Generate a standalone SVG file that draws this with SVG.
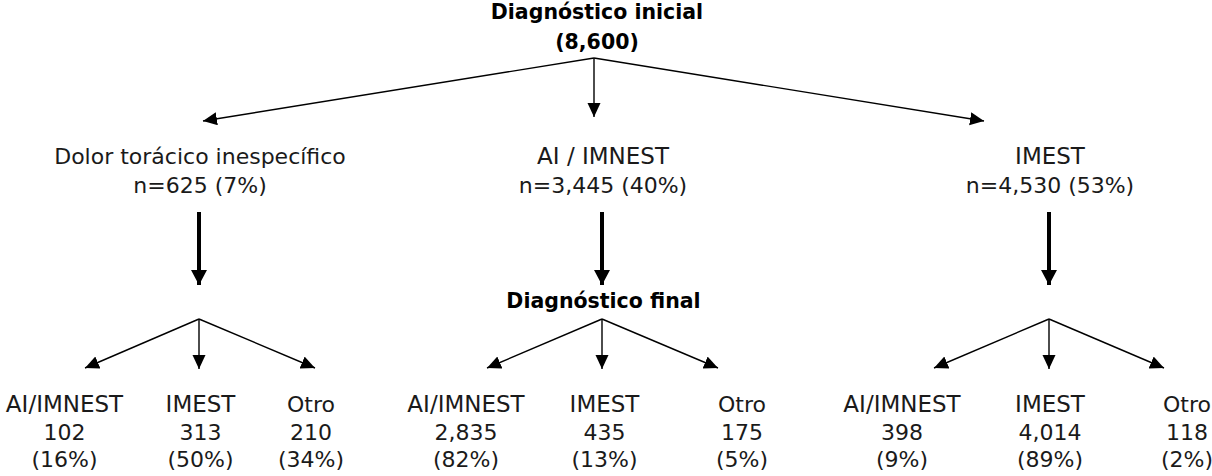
<svg xmlns="http://www.w3.org/2000/svg" width="1212" height="476" viewBox="0 0 1212 476">
<style>
text{font-family:"DejaVu Sans","Liberation Sans",sans-serif;fill:#1a1a1a;text-anchor:middle}
.b{font-weight:bold;font-size:20.5px;fill:#000}
.n{font-size:22px}
.u{font-size:23px}
.c{stroke:#000;fill:none;stroke-width:1.4}
.t{stroke:#000;fill:none;stroke-width:4}
</style>
<defs>
<marker id="ah" markerUnits="userSpaceOnUse" markerWidth="15" markerHeight="14" refX="14" refY="6.5" orient="auto"><path d="M0,0 L14,6.5 L0,13 z" fill="#000"/></marker>
<marker id="ahT" markerUnits="userSpaceOnUse" markerWidth="16" markerHeight="17" refX="15" refY="8" orient="auto"><path d="M0,0 L15,8 L0,16 z" fill="#000"/></marker>
</defs>
<rect width="1212" height="476" fill="#fff"/>
<g id="root"><text class="b" x="597" y="19">Diagnóstico inicial</text><text class="b" x="597" y="49">(8,600)</text></g>
<g id="n-dolor"><text class="n" x="200" y="164">Dolor torácico inespecífico</text><text class="n" x="200" y="192.5">n=625 (7%)</text></g>
<g id="n-ai"><text class="u" x="603" y="164">AI / IMNEST</text><text class="n" x="603" y="192.5">n=3,445 (40%)</text></g>
<g id="n-imest"><text class="u" x="1050" y="164">IMEST</text><text class="n" x="1050" y="192.5">n=4,530 (53%)</text></g>
<g id="final-label"><text class="b" x="603.5" y="308">Diagnóstico final</text></g>
<g id="l-ai"><text class="u" x="64.5" y="412">AI/IMNEST</text><text class="n" x="64.5" y="440">102</text><text class="n" x="64.5" y="467">(16%)</text></g>
<g id="l-imest"><text class="u" x="200.5" y="412">IMEST</text><text class="n" x="200.5" y="440">313</text><text class="n" x="200.5" y="467">(50%)</text></g>
<g id="l-otro"><text class="n" x="311" y="412">Otro</text><text class="n" x="311" y="440">210</text><text class="n" x="311" y="467">(34%)</text></g>
<g id="m-ai"><text class="u" x="466" y="412">AI/IMNEST</text><text class="n" x="466" y="440">2,835</text><text class="n" x="466" y="467">(82%)</text></g>
<g id="m-imest"><text class="u" x="604.5" y="412">IMEST</text><text class="n" x="604.5" y="440">435</text><text class="n" x="604.5" y="467">(13%)</text></g>
<g id="m-otro"><text class="n" x="742" y="412">Otro</text><text class="n" x="742" y="440">175</text><text class="n" x="742" y="467">(5%)</text></g>
<g id="r-ai"><text class="u" x="902" y="412">AI/IMNEST</text><text class="n" x="902" y="440">398</text><text class="n" x="902" y="467">(9%)</text></g>
<g id="r-imest"><text class="u" x="1050" y="412">IMEST</text><text class="n" x="1050" y="440">4,014</text><text class="n" x="1050" y="467">(89%)</text></g>
<g id="r-otro"><text class="n" x="1187" y="412">Otro</text><text class="n" x="1187" y="440">118</text><text class="n" x="1187" y="467">(2%)</text></g>
<g id="connectors">
<path class="c" d="M594,58 L203,121" marker-end="url(#ah)"/>
<path class="c" d="M594,58 L594,117" marker-end="url(#ah)"/>
<path class="c" d="M594,58 L984,121" marker-end="url(#ah)"/>
<path class="t" d="M199,212 L199,285" marker-end="url(#ahT)"/>
<path class="t" d="M602,212 L602,285" marker-end="url(#ahT)"/>
<path class="t" d="M1049,212 L1049,285" marker-end="url(#ahT)"/>
<path class="c" d="M199,319 L85,368" marker-end="url(#ah)"/>
<path class="c" d="M199,319 L199,369" marker-end="url(#ah)"/>
<path class="c" d="M199,319 L315,368" marker-end="url(#ah)"/>
<path class="c" d="M602,319 L487,368" marker-end="url(#ah)"/>
<path class="c" d="M602,319 L602,369" marker-end="url(#ah)"/>
<path class="c" d="M602,319 L718,368" marker-end="url(#ah)"/>
<path class="c" d="M1049,319 L934,368" marker-end="url(#ah)"/>
<path class="c" d="M1049,319 L1049,369" marker-end="url(#ah)"/>
<path class="c" d="M1049,319 L1164,368" marker-end="url(#ah)"/>
</g>
</svg>
